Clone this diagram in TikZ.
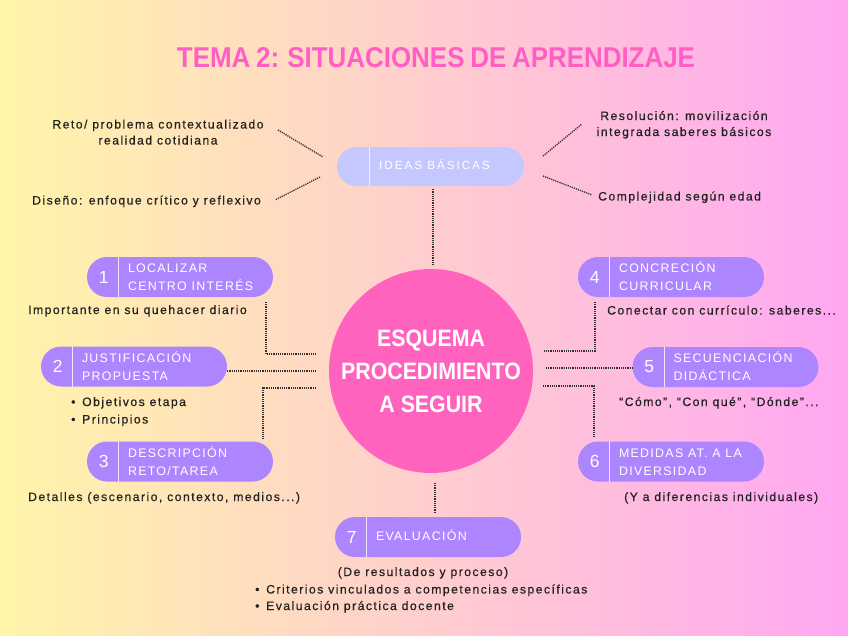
\documentclass[tikz,border=0pt]{standalone}
\usepackage{fontspec}
\usepackage{graphicx}
\setmainfont{Liberation Sans}
\newfontfamily\bodyf{Liberation Sans}[LetterSpace=12,FakeBold=0.5]
\newfontfamily\pillf{Liberation Sans}[LetterSpace=10.5]
\newfontfamily\ideasf{Liberation Sans}[LetterSpace=16]
\newfontfamily\headf{Liberation Sans}[FakeStretch=0.9]
\definecolor{bgleft}{HTML}{FFF5A9}
\definecolor{bgmid}{HTML}{FFCDCB}
\definecolor{bgright}{HTML}{FFA7F2}
\definecolor{pillpurple}{HTML}{AD86FF}
\definecolor{ideasblue}{HTML}{C4C8FF}
\definecolor{circpink}{HTML}{FF63BE}
\definecolor{titlepink}{HTML}{FF5FC4}
\definecolor{textdark}{HTML}{222222}
\definecolor{dotcol}{HTML}{303030}
\tikzset{
  pill/.style={fill=pillpurple, rounded corners=20pt, minimum width=186pt, minimum height=40pt, inner sep=0pt, draw=none},
  ideaspill/.style={pill, fill=ideasblue, minimum height=39pt, minimum width=187pt, rounded corners=19.5pt},
  divider/.style={draw=white!80!pillpurple, line width=1.3pt},
  numtxt/.style={text=white, font=\fontsize{17.5}{20}\selectfont, inner sep=0pt},
  pilltxt/.style={text=white, font=\pillf\fontsize{12.4}{15}\selectfont, inner sep=0pt, anchor=base west},
  bodytxt/.style={text=textdark, font=\bodyf\fontsize{12.2}{15}\selectfont, inner sep=0pt},
  conn/.style={draw=dotcol, line width=1.3pt, dash pattern=on 1.2pt off 1pt},
}
\newcommand\mkpill[6]{%
  \node[pill] (#1) at (#2,#3) {};
  \draw[divider] ([xshift=32pt]#1.north west) -- ([xshift=32pt]#1.south west);
  \node[numtxt] (#1-n) at ([xshift=17pt]#1.west) {#4};
  \node[pilltxt] (#1-a) at ([xshift=41pt,yshift=4.5pt]#1.west) {#5};
  \node[pilltxt] (#1-b) at ([xshift=41pt,yshift=-13.5pt]#1.west) {#6};
}
\newcommand\blt{\makebox[11pt][l]{•}}
\begin{document}
\begin{tikzpicture}[x=1pt,y=-1pt]
\useasboundingbox (0,0) rectangle (848,635);
\fill[left color=bgleft, middle color=bgmid, right color=bgright] (0,0) rectangle (848,635);

% title
\node[inner sep=0pt, text=titlepink] (title) at (436,58)
  {\resizebox{518pt}{20pt}{\headf\bfseries\spaceskip=0.2em TEMA 2: SITUACIONES DE APRENDIZAJE}};

% ideas basicas
\node[ideaspill] (ideas) at (430.5,166.5) {};
\draw[divider, draw=white!75!ideasblue] ([xshift=33pt]ideas.north west) -- ([xshift=33pt]ideas.south west);
\node[inner sep=0pt, anchor=base west, text=white, font=\ideasf\fontsize{11.8}{14}\selectfont] (ideas-t) at (379,169.5) {IDEAS BÁSICAS};

% center circle
\node[circle, fill=circpink, minimum size=204pt, inner sep=0pt, text=white, align=center,
      font=\headf\bfseries\fontsize{23.7}{33}\selectfont] (c) at (431,371)
  {ESQUEMA\\PROCEDIMIENTO\\A SEGUIR};

% pills
\mkpill{p1}{180}{277}{1}{LOCALIZAR}{CENTRO INTERÉS}
\mkpill{p2}{134}{366.5}{2}{JUSTIFICACIÓN}{PROPUESTA}
\mkpill{p3}{180}{461.5}{3}{DESCRIPCIÓN}{RETO/TAREA}
\mkpill{p4}{671}{277}{4}{CONCRECIÓN}{CURRICULAR}
\mkpill{p5}{725.5}{367}{5}{SECUENCIACIÓN}{DIDÁCTICA}
\mkpill{p6}{671}{461.5}{6}{MEDIDAS AT. A LA}{DIVERSIDAD}
\node[pill] (p7) at (428,537) {};
\draw[divider] ([xshift=32pt]p7.north west) -- ([xshift=32pt]p7.south west);
\node[numtxt] (p7-n) at ([xshift=17pt]p7.west) {7};
\node[pilltxt] (p7-a) at ([xshift=41pt,yshift=-3.5pt]p7.west) {EVALUACIÓN};

% texts
\node[bodytxt, anchor=base] (reto1) at (158,128.5) {Reto/ problema contextualizado};
\node[bodytxt, anchor=base] (reto2) at (158,144.5) {realidad cotidiana};
\node[bodytxt, anchor=base west] (disen) at (32,204.5) {Diseño: enfoque crítico y reflexivo};
\node[bodytxt, anchor=base] (reso1) at (684,120) {Resolución: movilización};
\node[bodytxt, anchor=base] (reso2) at (684,136) {integrada saberes básicos};
\node[bodytxt, anchor=base west] (compl) at (598,200.5) {Complejidad según edad};
\node[bodytxt, anchor=base west] (impo) at (28,314) {Importante en su quehacer diario};
\node[bodytxt, anchor=base west] (obj) at (71,406) {\blt Objetivos etapa};
\node[bodytxt, anchor=base west] (prin) at (71,423.5) {\blt Principios};
\node[bodytxt, anchor=base west] (deta) at (28,501) {Detalles (escenario, contexto, medios...)};
\node[bodytxt, anchor=base west] (conec) at (607,314.5) {Conectar con currículo: saberes...};
\node[bodytxt, anchor=base west] (como) at (619,406) {“Cómo”, “Con qué”, “Dónde”...};
\node[bodytxt, anchor=base west] (ydif) at (624,501) {(Y a diferencias individuales)};
\node[bodytxt, anchor=base] (dere) at (423,576) {(De resultados y proceso)};
\node[bodytxt, anchor=base west] (crit) at (255,593.5) {\blt Criterios vinculados a competencias específicas};
\node[bodytxt, anchor=base west] (eval) at (255,610) {\blt Evaluación práctica docente};

% connector coordinates
\coordinate (i1a) at (278,130); \coordinate (i1b) at (323,157);
\coordinate (i2a) at (320,177); \coordinate (i2b) at (275,200);
\coordinate (i3a) at (543,156); \coordinate (i3b) at (582,124);
\coordinate (i4a) at (543,176); \coordinate (i4b) at (592,195);
\coordinate (ic) at (433,266);
\coordinate (c1a) at (266,302); \coordinate (c1b) at (317,354);
\coordinate (c2b) at (316,371);
\coordinate (c3a) at (316,388); \coordinate (c3b) at (263,439);
\coordinate (c4a) at (595,302); \coordinate (c4b) at (544,351);
\coordinate (c5a) at (546,368);
\coordinate (c6a) at (543,386); \coordinate (c6b) at (594,437);
\coordinate (c7a) at (435,483); \coordinate (c7b) at (435,513);

\draw[conn] (i1a) -- (i1b);
\draw[conn] (i2a) -- (i2b);
\draw[conn] (i3a) -- (i3b);
\draw[conn] (i4a) -- (i4b);
\draw[conn] (ideas.south -| ic) ++(0,3) -- (ic);
\draw[conn] (c1a) |- (c1b);
\draw[conn] ([yshift=-4.5pt]p2.east) -- (c2b);
\draw[conn] (c3a) -| (c3b);
\draw[conn] (c4a) |- (c4b);
\draw[conn] (c5a) -- (c5a -| p5.west);
\draw[conn] (c6a) -| (c6b);
\draw[conn] (c7a) -- (c7b);
\end{tikzpicture}
\end{document}
